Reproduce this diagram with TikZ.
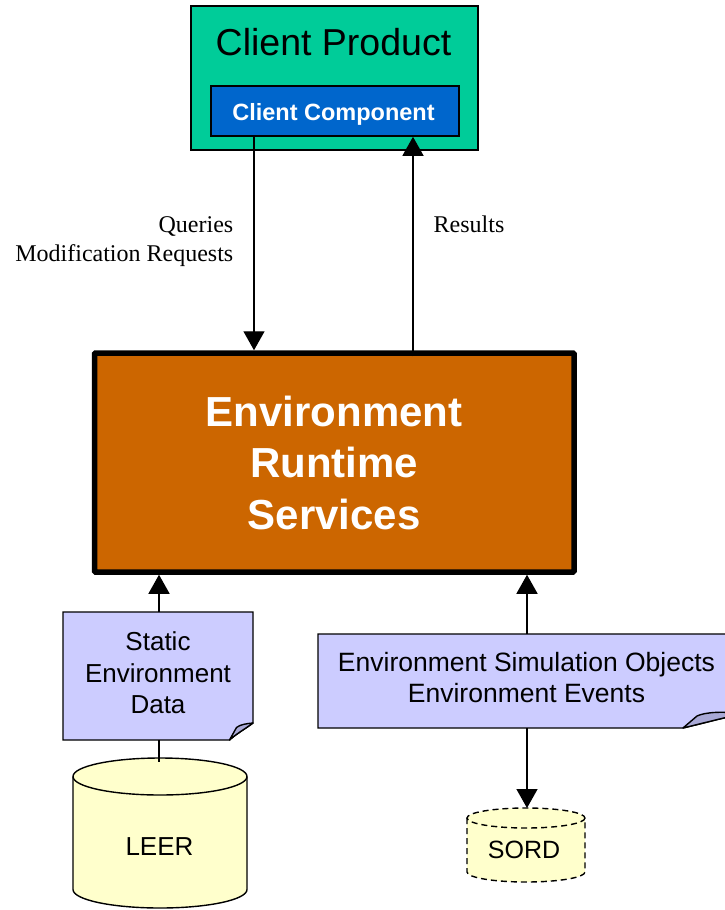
\documentclass[tikz,border=0pt]{standalone}
\usepackage{fontspec}
\setmainfont{Liberation Serif}
\setsansfont{Liberation Sans}
\usetikzlibrary{arrows.meta,calc,backgrounds}
\definecolor{productgreen}{HTML}{00CC99}
\definecolor{componentblue}{HTML}{0066CC}
\definecolor{runtimeorange}{HTML}{CC6600}
\definecolor{notelavender}{HTML}{CCCCFF}
\definecolor{notefold}{HTML}{A9A9D6}
\definecolor{storeyellow}{HTML}{FFFFCC}
\begin{document}
\begin{tikzpicture}[x=1pt,y=1pt,yscale=-1,
  box/.style={draw=black, inner sep=0pt},
  flow/.style={line width=1.4pt, -{Triangle[length=19pt,width=21pt]}},
  plain/.style={line width=1.4pt},
  sans/.style={inner sep=0pt, font=\sffamily\fontsize{26}{31.5}\selectfont},
  anchorbox/.style={inner sep=0pt, outer sep=0pt}
]
\useasboundingbox (0,0) rectangle (724,910);

% Client side
\node[box, fill=productgreen, line width=2pt, minimum width=287pt, minimum height=144pt] (product) at (334.5,78) {};
\node[anchor=base, inner sep=0pt, font=\sffamily\fontsize{37.5}{45}\selectfont] (producttitle) at (333.5,55) {Client Product};
\node[box, fill=componentblue, line width=1.6pt, minimum width=248pt, minimum height=50pt] (component) at (335,111) {};
\node[anchor=base, inner sep=0pt, text=white, font=\sffamily\bfseries\fontsize{23.5}{28}\selectfont] (componenttitle) at (333.5,120) {Client Component};

% Runtime services
\node[box, fill=runtimeorange, line width=5.5pt, rounded corners=1pt, minimum width=479.5pt, minimum height=219pt,
      text=white, align=center, font=\sffamily\bfseries\fontsize{42}{51.5}\selectfont] (runtime) at (334.25,462.5) {Environment\\Runtime\\Services};

% Data notes (outlines drawn on the background layer)
\node[anchorbox, minimum width=190pt, minimum height=128pt] (staticdata) at (158,676) {};
\node[sans, align=center] (staticlabel) at (158,673) {Static\\Environment\\Data};
\node[anchorbox, minimum width=424pt, minimum height=94pt] (simobjects) at (530,681) {};
\node[sans, align=center, font=\sffamily\fontsize{26.5}{31}\selectfont] (simlabel) at (526.5,678) {Environment Simulation Objects\\Environment Events};

% Data stores
\node[anchorbox, minimum width=174pt, minimum height=151pt] (leer) at (160,832.5) {};
\node[sans, anchor=base] (leerlabel) at (159.5,855) {LEER};
\node[anchorbox, minimum width=118pt, minimum height=74pt] (sord) at (526,845) {};
\node[sans, anchor=base, font=\sffamily\fontsize{25}{30}\selectfont] (sordlabel) at (524,858) {SORD};

\begin{scope}[on background layer]
  % folded-corner note: static data
  \draw[plain, fill=notelavender] (63,612) -- (253,612) -- (253,723)
    .. controls (245,729) and (236,734) .. (229.5,740) -- (63,740) -- cycle;
  \draw[plain, line join=round, fill=notefold] (253,723)
    .. controls (247,723.5) and (240,724.5) .. (236.5,727.5) -- (229.5,740)
    .. controls (236,734) and (245,729) .. (253,723) -- cycle;
  % folded-corner note: simulation objects
  \draw[plain, fill=notelavender] (318,634) -- (742,634) -- (742,714)
    .. controls (722,718) and (700,724) .. (683,728) -- (318,728) -- cycle;
  \draw[plain, line join=round, fill=notefold] (742,714)
    .. controls (725,711) and (705,712) .. (697,716) -- (683,728)
    .. controls (700,724) and (722,718) .. (742,714) -- cycle;
  % LEER cylinder
  \draw[plain, fill=storeyellow] (73,776.5) -- (73,889.5)
    arc[start angle=180, end angle=0, x radius=87pt, y radius=18.5pt] -- (247,776.5);
  \draw[plain, fill=storeyellow] (160,776.5) ellipse[x radius=87pt, y radius=18.5pt];
  % SORD cylinder (dashed)
  \draw[plain, dash pattern=on 6pt off 4pt, fill=storeyellow] (467,818) -- (467,872)
    arc[start angle=180, end angle=0, x radius=59pt, y radius=10pt] -- (585,818);
  \draw[plain, dash pattern=on 6pt off 4pt, fill=storeyellow] (526,818) ellipse[x radius=59pt, y radius=10pt];
\end{scope}

% Connector columns
\coordinate (queryx) at (254,0);
\coordinate (resultx) at (413,0);
\coordinate (staticx) at (159,0);
\coordinate (simx) at (527,0);

\draw[flow] (component.south -| queryx) -- (runtime.north -| queryx);
\draw[flow] ($(runtime.north -| resultx)+(0,6)$) -- (component.south -| resultx);
\draw[flow] (staticdata.north -| staticx) -- (runtime.south -| staticx);
\draw[flow] (simobjects.north -| simx) -- (runtime.south -| simx);
\draw[plain] (staticdata.south -| staticx) -- ($(leer.north -| staticx)+(0,4.5)$);
\draw[flow] (simobjects.south -| simx) -- (sord.north -| simx);

% Connector labels
\node[anchor=north east, inner sep=0pt, align=right, font=\fontsize{24}{29.5}\selectfont] (querylabel) at (233.5,216) {Queries\\Modification Requests};
\node[anchor=base west, inner sep=0pt, font=\fontsize{24}{28}\selectfont] (resultlabel) at (433.5,232) {Results};
\end{tikzpicture}
\end{document}
